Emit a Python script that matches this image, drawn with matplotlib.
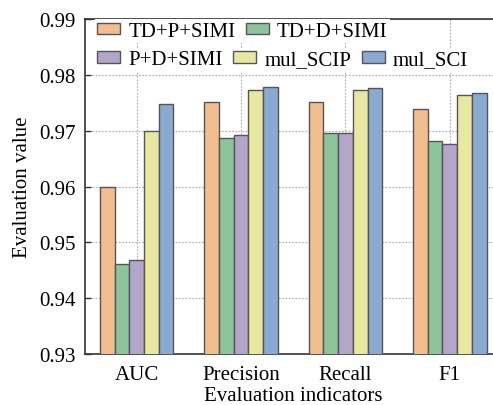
import numpy as np
import matplotlib
matplotlib.use('Agg')
import matplotlib.pyplot as plt

plt.rcParams['font.family'] = ['Liberation Serif', 'DejaVu Serif']
plt.rcParams['font.size'] = 15

indicators = ['AUC', 'Precision', 'Recall', 'F1']
methods = ['TD+P+SIMI', 'TD+D+SIMI', 'P+D+SIMI', 'mul_SCIP', 'mul_SCI']
td_p_simi = [0.9600, 0.9751, 0.9751, 0.9739]
td_d_simi = [0.9461, 0.9686, 0.9696, 0.9681]
p_d_simi = [0.9469, 0.9692, 0.9696, 0.9676]
mul_scip = [0.9700, 0.9772, 0.9772, 0.9763]
mul_sci = [0.9748, 0.9778, 0.9776, 0.9767]
values = [td_p_simi, td_d_simi, p_d_simi, mul_scip, mul_sci]
colors = ['#F2BE8F', '#8CC599', '#B4A6C9', '#E8E8A1', '#8AAAD3']

fig = plt.figure(figsize=(4.93, 4.06), dpi=100)
ax = fig.add_axes([84.5/493, 1-355/406, (502-84.5)/493, 335/406])

x = np.arange(len(indicators))
w = 0.141
bars = []
for i in range(len(methods)):
    b = ax.bar(x + (i-2)*w, values[i], w, bottom=0, color=colors[i],
               edgecolor='#555555', linewidth=1, label=methods[i], zorder=3)
    bars.append(b)

ax.set_ylim(0.93, 0.99)
ax.set_xlim(-0.5, 3.5)
ax.set_yticks(np.arange(0.93, 0.9901, 0.01))
ax.set_yticklabels(['%.2f' % v for v in np.arange(0.93, 0.9901, 0.01)])
ax.set_xticks(x)
ax.set_xticklabels(indicators)
ax.tick_params(direction='in', length=4, width=1, color='#333333')
ax.tick_params(axis='x', pad=8)
ax.tick_params(axis='y', pad=6.5)
ax.grid(True, linestyle=(0, (1.5, 1.5)), color='#aaaaaa', linewidth=0.8, zorder=0)
ax.set_axisbelow(True)
for s in ax.spines.values():
    s.set_linewidth(1.2)
    s.set_color('#333333')
ax.set_xlabel('Evaluation indicators', labelpad=1.5)
ax.set_ylabel('Evaluation value', labelpad=5)

kw = dict(frameon=True, fancybox=False, edgecolor='none', framealpha=1,
          handlelength=1.1, handleheight=0.45, handletextpad=0.4,
          columnspacing=0.5, borderpad=0.1, borderaxespad=0, fontsize=15)
leg1 = ax.legend(bars[:2], methods[:2], ncol=2, loc='center left',
                 bbox_to_anchor=(0.025, 0.964), **kw)
ax.add_artist(leg1)
ax.legend(bars[2:], methods[2:], ncol=3, loc='center left',
          bbox_to_anchor=(0.025, 0.878), **kw)

fig.savefig('out.png', dpi=100)
